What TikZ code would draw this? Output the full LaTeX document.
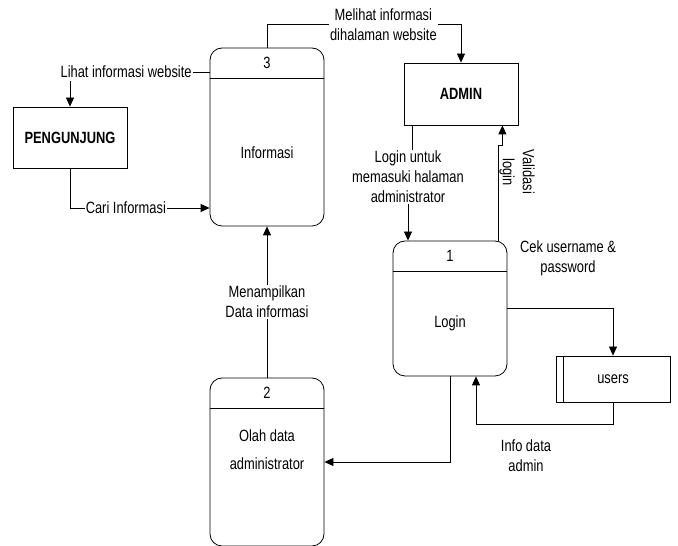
\documentclass[tikz,border=0pt]{standalone}
\usepackage{fontspec}
\setmainfont{Liberation Sans}[FakeStretch=0.79]
\usetikzlibrary{arrows.meta,calc,positioning}

\begin{document}
\begin{tikzpicture}[x=1pt,y=1pt,line width=0.8pt,
  font=\fontsize{16.3}{20}\selectfont,
  proc/.style={draw,rounded corners=12pt,minimum width=114pt,inner sep=0pt},
  ent/.style={draw,minimum width=114pt,inner sep=0pt,font=\fontsize{16.3}{20}\selectfont\bfseries},
  lbl/.style={align=center,inner sep=1pt},
  arr/.style={-{Triangle[length=9pt,width=8pt]}}]
\useasboundingbox (0,0) rectangle (678,546);

% processes
\node[proc,minimum height=178pt] (p3) at (267,409) {};
\node[proc,minimum height=135pt] (p1) at (450,237.5) {};
\node[proc,minimum height=168pt] (p2) at (267,84) {};
\foreach \p/\n in {p3/3,p1/1,p2/2} {
  \draw ([yshift=-31pt]\p.north west) -- ([yshift=-31pt]\p.north east);
  \node (\p-no) at ([yshift=-15.5pt]\p.north) {\n};
}
\node (p3-txt) at (267,393) {Informasi};
\node (p1-txt) at (450,223) {Login};
\node[align=center] (p2-txt) at (267,96) {Olah data\\[8pt]administrator};

% entities and store
\node[ent,minimum height=61pt] (peng) at (70,408.5) {PENGUNJUNG};
\node[ent,minimum height=62pt] (admin) at (461,452) {ADMIN};
\node[draw,minimum width=114pt,minimum height=46pt] (users) at (613,167) {users};
\draw ([xshift=8pt]users.north west) -- ([xshift=8pt]users.south west);

% flows
\node[lbl,anchor=east] (lihat) at (193,474) {Lihat informasi website};
\draw (lihat.east) -- (lihat.east -| p3.west);
\draw[arr] ([yshift=-2pt]lihat.south -| peng.north) -- (peng.north);
\draw[arr] (peng.south) |- node[lbl,fill=white,pos=0.7] (cari) {Cari Informasi} (p3.west |- 0,338);
\draw[arr] (p3.north) |- node[lbl,fill=white,pos=0.8] (melihat) {Melihat informasi\\dihalaman website} ([yshift=38pt]admin.north) -- (admin.north);

\node[lbl] (masuk) at (408,369) {Login untuk\\memasuki halaman\\administrator};
\draw ([xshift=9pt]admin.south west) -- ([xshift=9pt]admin.south west |- masuk.north);
\draw[arr] (masuk.south) -- (masuk.south |- p1.north);

\draw[arr] ([xshift=-9pt]p1.north east) |- ([xshift=-16pt]admin.south east |- 0,401) -- ([xshift=-16pt]admin.south east);
\node[lbl,rotate=-90] (valid) at (517,374) {Validasi\\login};

\node[lbl] (cek) at (568,288) {Cek username \&\\password};
\draw[arr] (p1.east) -| (users.north);
\draw[arr] (users.south) -- ++(0,-22) -| ([xshift=26pt]p1.south);
\node[lbl] (info) at (526,90) {Info data\\admin};

\draw[arr] (p1.south) |- (p2.east);
\draw[arr] (p2.north) -- node[lbl,fill=white] (tampil) {Menampilkan\\Data informasi} (p3.south);
\end{tikzpicture}
\end{document}
